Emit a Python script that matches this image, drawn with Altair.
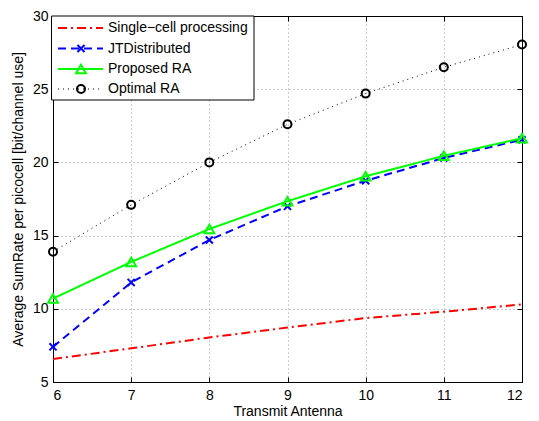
import altair as alt
import pandas as pd

# ---------------- data ----------------
antennas = [6, 7, 8, 9, 10, 11, 12]
single_cell = [6.57, 7.30, 8.04, 8.72, 9.37, 9.80, 10.30]
jt_distributed = [7.40, 11.80, 14.70, 17.00, 18.75, 20.30, 21.55]
proposed_ra = [10.70, 13.20, 15.45, 17.35, 19.05, 20.45, 21.65]
optimal_ra = [13.90, 17.10, 20.00, 22.60, 24.70, 26.50, 28.05]
series_names = ["Single\u2212cell processing", "JTDistributed", "Proposed RA", "Optimal RA"]
x_ticks = [6, 7, 8, 9, 10, 11, 12]
y_ticks = [5, 10, 15, 20, 25, 30]

series_values = [single_cell, jt_distributed, proposed_ra, optimal_ra]

FONT = "Liberation Sans"
FS = 14
W, H = 469, 366

styles = [
    dict(color="#ff0000", dash=[9, 4, 2, 4], width=2, shape=None),
    dict(color="#0000ff", dash=[8, 5], width=2, shape="M-1,-1L1,1M1,-1L-1,1"),
    dict(color="#00ff00", dash=[1, 0], width=2, shape="triangle-up"),
    dict(color="#000000", dash=[1, 4], width=1, shape="circle"),
]
shape_sizes = {"M-1,-1L1,1M1,-1L-1,1": 50, "triangle-up": 95, "circle": 64}

xs = alt.Scale(domain=[6, 12], nice=False, zero=False)
ys = alt.Scale(domain=[5, 30], nice=False, zero=False)

common = dict(labelFont=FONT, labelFontSize=FS, labelColor="black",
              titleFont=FONT, titleFontSize=FS, titleFontWeight="normal", titleColor="black",
              domainColor="black", domainWidth=1, tickColor="black", tickWidth=1,
              gridColor="#9a9a9a", gridDash=[1, 3], gridWidth=1)

x_axis = alt.Axis(values=x_ticks, title="Transmit Antenna", grid=True,
                  tickSize={"expr": "-5"}, labelPadding=11, titlePadding=2, **common)
y_axis = alt.Axis(values=y_ticks, title="Average SumRate per picocell [bit/channel use]",
                  grid=True, tickSize={"expr": "-5"}, labelPadding=10, titlePadding=7, **common)

data_layers = []
for name, vals, st in zip(series_names, series_values, styles):
    df = pd.DataFrame({"antenna": antennas, "rate": vals, "series": name})
    enc = dict(x=alt.X("antenna:Q", scale=xs, axis=x_axis),
               y=alt.Y("rate:Q", scale=ys, axis=y_axis))
    data_layers.append(
        alt.Chart(df).mark_line(color=st["color"], strokeDash=st["dash"],
                                strokeWidth=st["width"], clip=True).encode(**enc)
    )
    if st["shape"]:
        data_layers.append(
            alt.Chart(df).mark_point(shape=st["shape"], size=shape_sizes[st["shape"]],
                                     color=st["color"], filled=False, strokeWidth=2,
                                     opacity=1).encode(**enc)
        )

main = alt.layer(*data_layers)

# top/right mirrored axes (box with inward ticks)
frame_df = pd.DataFrame({"antenna": antennas, "rate": optimal_ra})
frame = alt.Chart(frame_df).mark_point(opacity=0).encode(
    x=alt.X("antenna:Q", scale=xs, axis=alt.Axis(orient="top", values=x_ticks, labels=False,
                                                 title=None, grid=False, tickSize={"expr": "-5"},
                                                 domainColor="black", tickColor="black")),
    y=alt.Y("rate:Q", scale=ys, axis=alt.Axis(orient="right", values=y_ticks, labels=False,
                                              title=None, grid=False, tickSize={"expr": "-5"},
                                              domainColor="black", tickColor="black")),
)

# legend (drawn manually, MATLAB style)
one = pd.DataFrame({"k": [0]})
legend_layers = [
    alt.Chart(one).mark_rect(fill="white", stroke="black", strokeWidth=1).encode(
        x=alt.value(-1.5), x2=alt.value(201), y=alt.value(0), y2=alt.value(84))
]
row_y = [12, 32.5, 53, 73]
for name, st, yy in zip(series_names, styles, row_y):
    legend_layers.append(
        alt.Chart(one).mark_rule(color=st["color"], strokeDash=st["dash"],
                                 strokeWidth=st["width"]).encode(
            x=alt.value(5), x2=alt.value(50), y=alt.value(yy))
    )
    if st["shape"]:
        legend_layers.append(
            alt.Chart(one).mark_point(shape=st["shape"], size=shape_sizes[st["shape"]],
                                      color=st["color"], filled=False, strokeWidth=2,
                                      opacity=1).encode(x=alt.value(28), y=alt.value(yy))
        )
    legend_layers.append(
        alt.Chart(one).mark_text(text=name, align="left", baseline="middle", font=FONT,
                                 fontSize=FS, color="black").encode(
            x=alt.value(55), y=alt.value(yy))
    )

chart = alt.layer(main, frame, *legend_layers).resolve_axis(
    x="independent", y="independent"
).properties(
    width=W, height=H,
    background="white",
    autosize=alt.AutoSizeParams(type="none"),
    padding={"left": 45, "top": 8, "right": 9, "bottom": 37},
).configure_view(
    stroke="black", strokeWidth=1
)

chart.save("out.html", embed_options={"renderer": "svg", "actions": False})
